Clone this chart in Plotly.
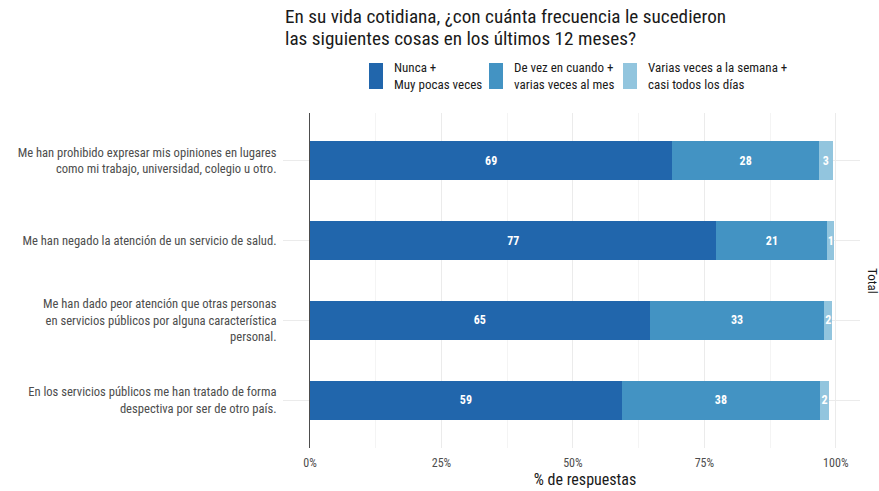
import plotly.graph_objects as go

# Survey items (top to bottom) and share of answers per frequency group
items = [
    "Me han prohibido expresar mis opiniones en lugares<br>como mi trabajo, universidad, colegio u otro.",
    "Me han negado la atención de un servicio de salud.",
    "Me han dado peor atención que otras personas<br>en servicios públicos por alguna característica<br>personal.",
    "En los servicios públicos me han tratado de forma<br>despectiva por ser de otro país.",
]
nunca = [68.9, 77.3, 64.6, 59.3]
de_vez = [27.9, 21.1, 33.2, 37.7]
varias = [2.6, 1.3, 1.5, 1.7]

series_names = [
    "Nunca +<br>Muy pocas veces",
    "De vez en cuando +<br>varias veces al mes",
    "Varias veces a la semana +<br>casi todos los días",
]
colors = ["#2166ac", "#4393c3", "#92c5de"]

title_lines = [
    "En su vida cotidiana, ¿con cuánta frecuencia le sucedieron",
    "las siguientes cosas en los últimos 12 meses?",
]

FONT = "Roboto Condensed, Liberation Sans Narrow, Roboto, sans-serif"

# Plot panel in pixels
W, H = 879, 491
L, R, T, B = 310, 860, 113, 448


def px_x(px):
    return (px - L) / (R - L)


def px_y(py):
    return (B - py) / (B - T)


fig = go.Figure()
for name, vals, col in zip(series_names, [nunca, de_vez, varias], colors):
    fig.add_trace(go.Bar(
        y=items, x=vals, name=name, orientation="h",
        marker=dict(color=col, line=dict(width=0)),
        width=0.49,
        text=vals, texttemplate="%{x:.0f}",
        textposition="inside", insidetextanchor="middle",
        constraintext="none",
        textfont=dict(color="white", size=12, family=FONT, weight="bold"),
        hoverinfo="skip",
        showlegend=False,
    ))

fig.update_layout(
    width=W, height=H,
    barmode="stack",
    plot_bgcolor="white", paper_bgcolor="white",
    font=dict(family=FONT, color="#4d4d4d", size=12),
    margin=dict(l=L, r=W - R, t=T, b=H - B, autoexpand=False),
    showlegend=False,
)

# Two-line title above the legend, one annotation per line for tight leading
for line, cy in zip(title_lines, [17, 38]):
    fig.add_annotation(
        text=line, xref="paper", yref="paper",
        x=px_x(283), xanchor="left", y=px_y(cy), yanchor="middle",
        align="left", showarrow=False,
        font=dict(size=19.2, color="#1a1a1a", family=FONT),
    )

fig.update_xaxes(
    range=[0, 104.6],
    tickvals=[0, 25, 50, 75, 100],
    ticktext=["0%", "25%", "50%", "75%", "100%"],
    showgrid=True, gridcolor="#ebebeb", gridwidth=1,
    minor=dict(tickvals=[12.5, 37.5, 62.5, 87.5], showgrid=True, gridcolor="#f4f4f4", gridwidth=0.6),
    zeroline=False, ticks="", ticklabelstandoff=6,
    tickfont=dict(size=12, color="#4d4d4d"),
    title=dict(text="% de respuestas", font=dict(size=16, color="#1a1a1a"), standoff=2),
    fixedrange=True,
)
fig.update_yaxes(
    categoryorder="array", categoryarray=items[::-1],
    range=[-0.6, 3.6],
    showgrid=True, gridcolor="#ebebeb",
    ticks="outside", ticklen=26, tickcolor="#ebebeb",
    ticklabelstandoff=4,
    tickfont=dict(size=12.6, color="#4d4d4d"),
    showline=True, linecolor="#4d4d4d", linewidth=1,
    fixedrange=True,
)

# Legend drawn as colour keys with two-line labels above the panel
key_left = [369, 489, 623]
for name, col, kx in zip(series_names, colors, key_left):
    fig.add_shape(
        type="rect", xref="paper", yref="paper",
        x0=px_x(kx), x1=px_x(kx + 14), y0=px_y(89), y1=px_y(63),
        fillcolor=col, line=dict(width=0),
    )
    fig.add_annotation(
        text=name, xref="paper", yref="paper",
        x=px_x(kx + 23), xanchor="left", y=px_y(76), yanchor="middle",
        align="left", showarrow=False,
        font=dict(size=13, color="#1a1a1a", family=FONT),
    )

# Facet strip label on the right side
fig.add_annotation(
    text="Total", textangle=90, xref="paper", yref="paper",
    x=1.0, xanchor="left", xshift=3, y=0.5, yanchor="middle",
    showarrow=False, font=dict(size=13, color="#1a1a1a", family=FONT),
)

fig.write_html("out.html")
